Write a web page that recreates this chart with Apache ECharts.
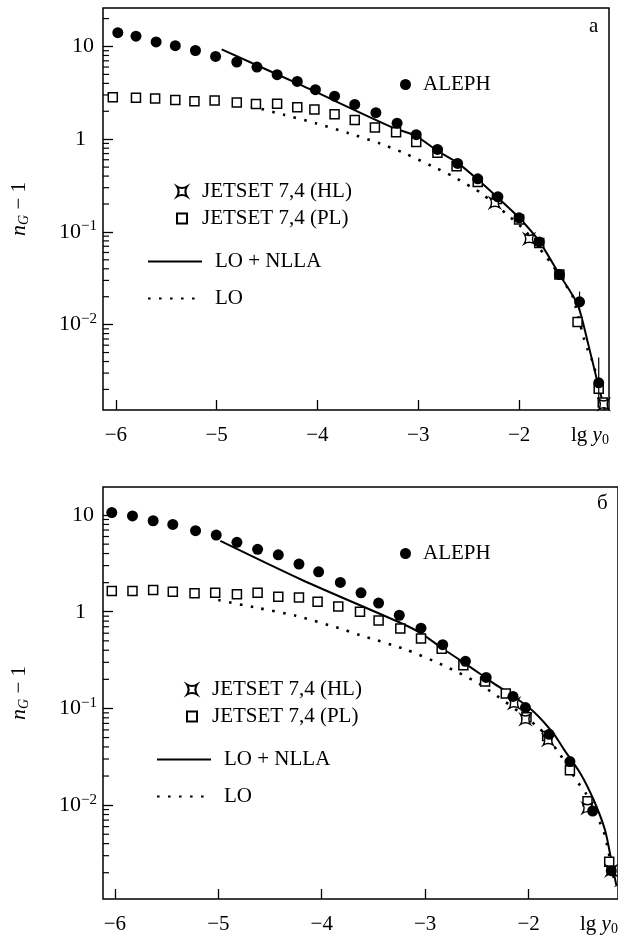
<!DOCTYPE html>
<html><head><meta charset="utf-8">
<script src="https://cdn.jsdelivr.net/npm/echarts@6/dist/echarts.min.js"></script>
<style>html,body{margin:0;padding:0;background:#fff}#c{width:618px;height:936px}</style>
</head><body><div id="c"></div>
<script>
// ---------- Panel а ----------
const alephAX = [-5.98,-5.80,-5.60,-5.41,-5.21,-5.01,-4.80,-4.60,-4.40,-4.20,-4.02,-3.83,-3.63,-3.42,-3.21,-3.02,-2.81,-2.61,-2.41,-2.21,-2.00,-1.80,-1.60,-1.40,-1.21];
const alephAY = [14.1,12.9,11.2,10.2,9.05,7.8,6.8,6.0,4.97,4.2,3.42,2.91,2.37,1.93,1.49,1.12,0.775,0.547,0.374,0.239,0.142,0.078,0.0347,0.0176,0.00236];
const plAX = [-6.03,-5.80,-5.61,-5.41,-5.22,-5.02,-4.80,-4.61,-4.40,-4.20,-4.03,-3.83,-3.63,-3.43,-3.22,-3.02,-2.81,-2.62,-2.41,-2.22,-2.00,-1.80,-1.60,-1.42,-1.21,-1.17];
const plAY = [2.84,2.80,2.75,2.64,2.57,2.62,2.49,2.40,2.41,2.21,2.09,1.86,1.61,1.34,1.19,0.93,0.713,0.51,0.345,0.226,0.136,0.076,0.0347,0.0107,0.00204,0.00145];
const hlAX = [-2.24,-1.90,-1.16];
const hlAY = [0.206,0.084,0.00138];
const errAX = [-1.40,-1.21];
const errALow = [0.0138,0.00138];
const errAHigh = [0.0227,0.00441];
const nllaAX = [-4.95,-4.14,-3.25,-3.02,-2.83,-2.61,-2.41,-2.21,-2.00,-1.80,-1.60,-1.42,-1.31,-1.23,-1.15];
const nllaAY = [9.3,3.73,1.33,1.08,0.774,0.556,0.367,0.233,0.142,0.079,0.0347,0.0165,0.0059,0.0026,0.0012];
const loAX = [-4.66,-4.33,-4.01,-3.69,-3.37,-3.16,-2.86,-2.66,-2.47,-2.37,-2.12,-1.95,-1.75,-1.67,-1.53,-1.47,-1.36,-1.32,-1.26,-1.18];
const loAY = [2.27,1.83,1.48,1.16,0.89,0.724,0.51,0.40,0.303,0.259,0.154,0.106,0.057,0.044,0.026,0.0204,0.0073,0.0054,0.0037,0.0015];

// ---------- Panel б ----------
const alephBX = [-6.03,-5.83,-5.63,-5.44,-5.22,-5.02,-4.82,-4.62,-4.42,-4.22,-4.03,-3.82,-3.62,-3.45,-3.25,-3.04,-2.83,-2.61,-2.41,-2.15,-2.03,-1.80,-1.60,-1.38,-1.20];
const alephBY = [10.6,9.8,8.73,8.0,6.9,6.2,5.22,4.42,3.88,3.11,2.59,2.01,1.57,1.23,0.92,0.676,0.457,0.307,0.209,0.133,0.102,0.054,0.0282,0.0087,0.0021];
const plBX = [-6.03,-5.83,-5.63,-5.44,-5.23,-5.03,-4.82,-4.62,-4.42,-4.22,-4.04,-3.84,-3.63,-3.45,-3.24,-3.04,-2.84,-2.63,-2.42,-2.22,-2.02,-1.82,-1.60,-1.43,-1.22];
const plBY = [1.64,1.64,1.68,1.61,1.55,1.57,1.52,1.57,1.43,1.40,1.27,1.13,1.0,0.81,0.67,0.53,0.415,0.28,0.19,0.143,0.081,0.052,0.023,0.011,0.0026];
const hlBX = [-2.14,-2.03,-1.81,-1.43,-1.20];
const hlBY = [0.113,0.077,0.047,0.0093,0.0021];
const nllaBX = [-4.98,-4.19,-3.23,-3.04,-2.81,-2.59,-2.37,-2.14,-1.95,-1.76,-1.66,-1.50,-1.37,-1.26,-1.20,-1.15];
const nllaBY = [5.4,2.13,0.76,0.598,0.402,0.281,0.192,0.132,0.0925,0.0552,0.038,0.0214,0.0113,0.0055,0.0027,0.00146];
const loBX = [-5.0,-4.61,-4.25,-3.83,-3.63,-3.20,-2.83,-2.46,-1.90,-1.70,-1.52,-1.45,-1.31,-1.26,-1.16];
const loBY = [1.32,1.09,0.91,0.675,0.574,0.411,0.281,0.175,0.063,0.0339,0.017,0.0135,0.0066,0.0048,0.00144];

// ---------- axes ----------
const xTicks = [-6,-5,-4,-3,-2];
const decades = [0.001,0.01,0.1,1,10];
const minorMult = [2,3,4,5,6,7,8,9];
const xRangeA = [-6.127,-1.108], yRangeA = [0.0012,26];
const xRangeB = [-6.115,-1.135], yRangeB = [0.00107,19.5];

const FONT = '"Liberation Serif","Times New Roman",serif';
const pair = (xs, ys) => xs.map((x,i)=>[x, ys[i]]);
const STAR = 'path://M0,0 Q5,3.2 10,0 Q6.8,5 10,10 Q5,6.8 0,10 Q3.2,5 0,0 Z';

function minorVals(r){
  const out=[];
  decades.forEach(d=>minorMult.forEach(m=>{const v=d*m; if(v>r[0]&&v<r[1]) out.push(v);}));
  return out;
}
function yLabel(v){
  const e = Math.round(Math.log10(v));
  if (e===1) return '{ten|10}';
  if (e===0) return '{one|1}';
  return '10{sup|−'+(-e)+'}';
}
function xAxisDef(gi, r){
  return {type:'value', gridIndex:gi, min:r[0], max:r[1],
    axisLine:{show:false}, splitLine:{show:false},
    axisTick:{inside:true, length:10, lineStyle:{color:'#000', width:1.3}},
    axisLabel:{showMinLabel:false, showMaxLabel:false, margin:15, color:'#000', fontFamily:FONT, fontSize:21,
      formatter:v=> xTicks.indexOf(Math.round(v))>=0 && Math.abs(v-Math.round(v))<1e-6 ? String(Math.round(v)).replace('-','−') : ''}};
}
function yAxisDef(gi, r){
  return {type:'log', logBase:10, gridIndex:gi, min:r[0], max:r[1],
    axisLine:{show:false}, splitLine:{show:false},
    axisTick:{inside:true, length:10, lineStyle:{color:'#000', width:1.3}},
    axisLabel:{showMinLabel:false, showMaxLabel:false, margin:6, color:'#000', fontFamily:FONT, fontSize:22,
      formatter:yLabel,
      rich:{ten:{fontSize:22, fontFamily:FONT, padding:[0,3,0,0]}, one:{fontSize:22, fontFamily:FONT, padding:[0,11,0,0]},
            sup:{fontSize:15, fontFamily:FONT, padding:[0,0,11,0]}}},
    name:'{i|n}{sub|G} − 1', nameLocation:'middle', nameGap:72, nameRotate:90,
    nameTextStyle:{color:'#000', fontFamily:FONT, fontSize:21,
      rich:{i:{fontStyle:'italic', fontSize:22, fontFamily:FONT}, sub:{fontStyle:'italic', fontSize:14, fontFamily:FONT, padding:[10,0,0,0]}}}};
}
function minorTicks(gi, xr, yr){
  return {type:'custom', xAxisIndex:gi, yAxisIndex:gi, silent:true, z:6,
    data: minorVals(yr).map(v=>[xr[0], v]),
    renderItem:(p, api)=>{const c = api.coord([api.value(0), api.value(1)]);
      return {type:'line', shape:{x1:c[0], y1:c[1], x2:c[0]+6, y2:c[1]}, style:{stroke:'#000', lineWidth:1.2}};}};
}
function errorBars(gi, xs, lo, hi){
  return {type:'custom', xAxisIndex:gi, yAxisIndex:gi, silent:true, z:4,
    data: xs.map((x,i)=>[x, lo[i], hi[i]]), encode:{x:0, y:[1,2]},
    renderItem:(p, api)=>{const a = api.coord([api.value(0), api.value(1)]); const b = api.coord([api.value(0), api.value(2)]);
      return {type:'line', shape:{x1:a[0], y1:a[1], x2:b[0], y2:b[1]}, style:{stroke:'#000', lineWidth:1.2}};}};
}
function panelSeries(gi, d){
  return [
    {name:'LO + NLLA', type:'line', xAxisIndex:gi, yAxisIndex:gi, data:pair(d.nx,d.ny), symbol:'none', smooth:0.25,
      itemStyle:{color:'#000'}, lineStyle:{color:'#000', width:2}, z:2},
    {name:'LO', type:'line', xAxisIndex:gi, yAxisIndex:gi, data:pair(d.lx,d.ly), symbol:'none', smooth:0.25,
      itemStyle:{color:'#000'}, lineStyle:{color:'#000', width:2.6, type:[2.6,8.4], cap:'butt'}, z:2},
    {name:'JETSET 7,4 (PL)', type:'scatter', xAxisIndex:gi, yAxisIndex:gi, data:pair(d.px,d.py), symbol:'rect', symbolSize:9,
      itemStyle:{color:'#fff', borderColor:'#000', borderWidth:1.5, opacity:1}, z:3},
    {name:'JETSET 7,4 (HL)', type:'scatter', xAxisIndex:gi, yAxisIndex:gi, data:pair(d.hx,d.hy), symbol:STAR, symbolSize:10,
      itemStyle:{color:'#fff', borderColor:'#000', borderWidth:1.4, opacity:1}, z:4},
    {name:'ALEPH', type:'scatter', xAxisIndex:gi, yAxisIndex:gi, data:pair(d.ax,d.ay), symbol:'circle', symbolSize:11,
      itemStyle:{color:'#000', opacity:1}, z:5}
  ];
}
const txt = {color:'#000', fontFamily:FONT, fontSize:21};
function legends(o){
  return [
    {data:['ALEPH'], left:o.alx, top:o.aly, orient:'vertical', padding:0, itemWidth:11, itemHeight:11, selectedMode:false,
      textStyle:Object.assign({padding:[0,0,0,7]},txt)},
    {data:['JETSET 7,4 (HL)','JETSET 7,4 (PL)'], left:o.jx, top:o.jy, orient:'vertical', padding:0, itemGap:6, itemWidth:10, itemHeight:10, selectedMode:false,
      textStyle:Object.assign({padding:[0,0,0,10]},txt)},
    {data:['LO + NLLA'], left:o.lx, top:o.ly, orient:'vertical', padding:0, itemWidth:54, itemHeight:12, selectedMode:false,
      itemStyle:{opacity:0}, textStyle:Object.assign({padding:[0,0,0,8]},txt)},
    {data:['LO'], left:o.lx, top:o.ly+37, orient:'vertical', padding:0, itemWidth:54, itemHeight:12, selectedMode:false,
      itemStyle:{opacity:0}, textStyle:Object.assign({padding:[0,0,0,8]},txt)}
  ];
}
const lgRich = {i:{fontStyle:'italic', fontSize:21, fontFamily:FONT}, sub:{fontSize:14, fontFamily:FONT, padding:[9,0,0,0]}};

const option = {
  backgroundColor:'#fff',
  animation:false,
  grid:[
    {left:97, top:8, width:512, height:402, show:true, borderColor:'#000', borderWidth:1.5, backgroundColor:'transparent'},
    {left:100, top:487, width:518, height:412, show:true, borderColor:'#000', borderWidth:1.5, backgroundColor:'transparent'}
  ],
  xAxis:[xAxisDef(0,xRangeA), xAxisDef(1,xRangeB)],
  yAxis:[yAxisDef(0,yRangeA), yAxisDef(1,yRangeB)],
  legend:[].concat(
    legends({alx:400, aly:74, jx:176, jy:181, lx:147, ly:251}),
    legends({alx:400, aly:543, jx:186, jy:679, lx:156, ly:749})
  ),
  graphic:[
    {type:'text', left:589, top:16, style:Object.assign({text:'а'},txt)},
    {type:'text', left:597, top:493, style:Object.assign({text:'б'},txt)},
    {type:'text', left:571, top:425, style:Object.assign({text:'lg {i|y}{sub|0}', rich:lgRich},txt)},
    {type:'text', left:580, top:914, style:Object.assign({text:'lg {i|y}{sub|0}', rich:lgRich},txt)}
  ],
  series:[].concat(
    panelSeries(0,{nx:nllaAX,ny:nllaAY,lx:loAX,ly:loAY,px:plAX,py:plAY,hx:hlAX,hy:hlAY,ax:alephAX,ay:alephAY}),
    panelSeries(1,{nx:nllaBX,ny:nllaBY,lx:loBX,ly:loBY,px:plBX,py:plBY,hx:hlBX,hy:hlBY,ax:alephBX,ay:alephBY}),
    [errorBars(0, errAX, errALow, errAHigh), minorTicks(0,xRangeA,yRangeA), minorTicks(1,xRangeB,yRangeB)]
  )
};
const chart = echarts.init(document.getElementById('c'));
chart.setOption(option);
</script></body></html>
